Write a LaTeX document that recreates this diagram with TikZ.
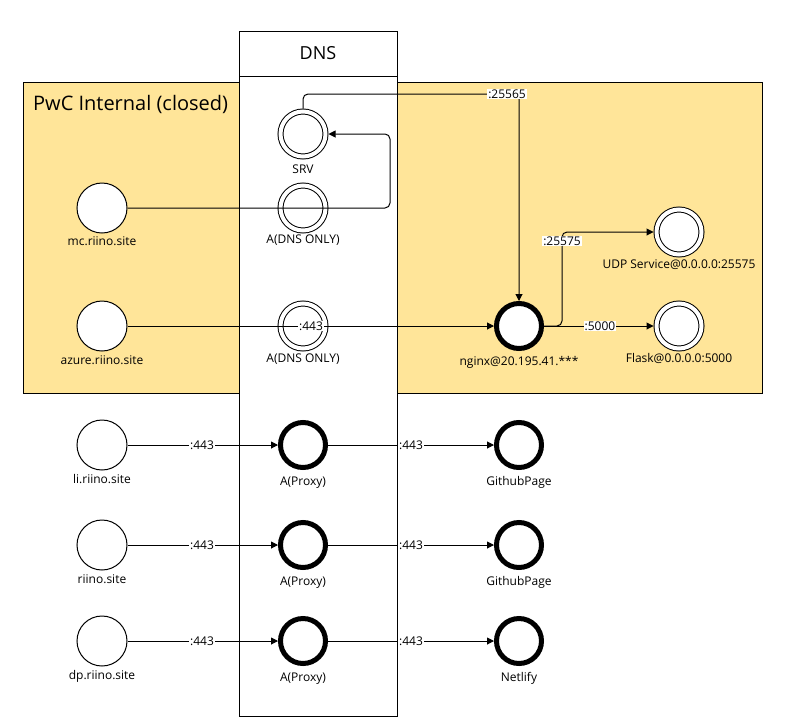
\documentclass[tikz,border=0pt]{standalone}
\usepackage{fontspec}
\setmainfont{Open Sans}
\usetikzlibrary{arrows.meta}
\definecolor{orangefill}{HTML}{FFE599}
\begin{document}
\begin{tikzpicture}[x=1pt,y=-1pt,
  lblfont/.style={font=\fontsize{12}{14}\selectfont},
  every label/.style={lblfont,inner sep=0pt,text height=9pt,text depth=3pt},
  label distance=4pt,
  plainc/.style={circle,draw,fill=white,line width=1pt,minimum size=50pt,inner sep=0pt},
  boldc/.style={circle,draw,fill=white,line width=5pt,minimum size=45pt,inner sep=0pt},
  dblc/.style={circle,draw,double,double distance=4pt,line width=1pt,fill=white,minimum size=45pt,inner sep=0pt,outer sep=3pt},
  arr/.style={-{Triangle[length=7pt,width=7pt]},line width=1pt,rounded corners=5pt},
  elabel/.style={lblfont,fill=white,inner sep=1pt}
]
\useasboundingbox (0,0) rectangle (789,726);
% zone and lane
\draw[fill=orangefill,line width=1pt] (23,82) rectangle (762,393);
\node[anchor=west,inner sep=0pt,font=\fontsize{20}{24}\selectfont] (zone) at (33,104) {PwC Internal (closed)};
\draw[fill=white,line width=1pt] (239,31) rectangle (397,716);
\draw[line width=1pt] (239,76) -- (397,76);
\node[font=\fontsize{18}{21}\selectfont] (dns) at (318,53) {DNS};

% nodes
\node[plainc,label={[label distance=3pt]below:mc.riino.site}] (mc) at (102,208) {};
\node[plainc,label=below:azure.riino.site] (azure) at (102,326) {};
\node[plainc,label=below:li.riino.site] (li) at (102,445) {};
\node[plainc,label=below:riino.site] (ri) at (102,545) {};
\node[plainc,label=below:dp.riino.site] (dp) at (102,641) {};

\node[dblc,label={[label distance=5pt]below:SRV}] (srv) at (303,134) {};
\node[dblc,label={[label distance=1pt]below:A(DNS ONLY)}] (adns1) at (303,208) {};
\node[dblc,label={[label distance=2pt]below:A(DNS ONLY)}] (adns2) at (303,326) {};

\node[boldc,label={[label distance=6pt]below:A(Proxy)}] (ap1) at (303,445) {};
\node[boldc,label={[label distance=6pt]below:A(Proxy)}] (ap2) at (303,545) {};
\node[boldc,label={[label distance=6pt]below:A(Proxy)}] (ap3) at (303,641) {};

\node[boldc,label={[label distance=5pt]below:nginx@20.195.41.***}] (nginx) at (519,326) {};
\node[dblc,label={[label distance=2pt]below:UDP Service@0.0.0.0:25575}] (udp) at (679,232) {};
\node[dblc,label={[label distance=2pt]below:Flask@0.0.0.0:5000}] (flask) at (679,326) {};

\node[boldc,label={[label distance=6pt]below:GithubPage}] (gh1) at (519,445) {};
\node[boldc,label={[label distance=6pt]below:GithubPage}] (gh2) at (519,545) {};
\node[boldc,label={[label distance=6pt]below:Netlify}] (nl) at (519,641) {};

% connectors
\coordinate (k0) at (390,208);
\coordinate (k1) at (519,94);
\coordinate (k2) at (562,326);
\draw[arr] (mc.east) -- (k0) |- (srv.east);
\draw[arr] (srv.north) |- (k1) -- (nginx.north);
\node[elabel] (l1) at (507,94) {:25565};
\draw[arr] (azure.east) -- (nginx.west);
\node[elabel] (l2) at (311,326) {:443};
\draw[arr] (nginx.east) -- (k2) |- (udp.west);
\node[elabel] (l3) at (562,241) {:25575};
\draw[arr] (nginx.east) -- (flask.west);
\node[elabel] (l4) at (600,326) {:5000};

\draw[arr] (li.east) -- (ap1.west);
\node[elabel] (l5) at (202,445) {:443};
\draw[arr] (ap1.east) -- (gh1.west);
\node[elabel] (l6) at (411,445) {:443};
\draw[arr] (ri.east) -- (ap2.west);
\node[elabel] (l7) at (202,545) {:443};
\draw[arr] (ap2.east) -- (gh2.west);
\node[elabel] (l8) at (411,545) {:443};
\draw[arr] (dp.east) -- (ap3.west);
\node[elabel] (l9) at (202,641) {:443};
\draw[arr] (ap3.east) -- (nl.west);
\node[elabel] (l10) at (411,641) {:443};
\end{tikzpicture}
\end{document}
